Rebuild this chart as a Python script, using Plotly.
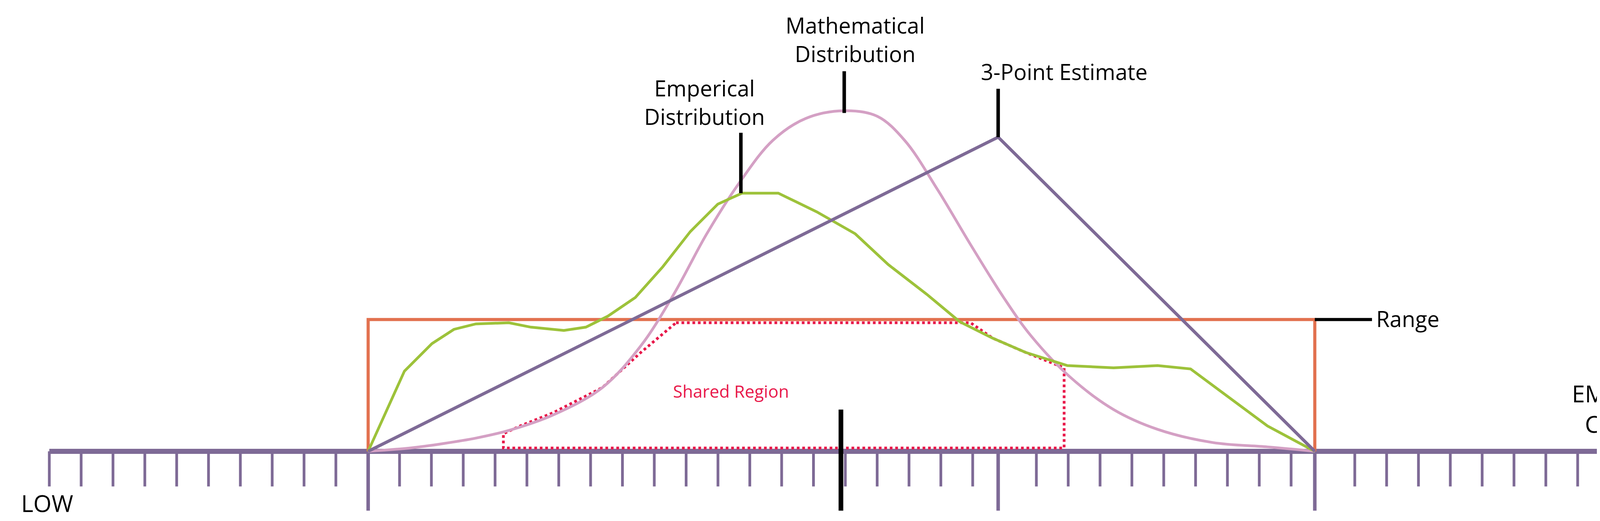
import plotly.graph_objects as go
import numpy as np

W, H = 4222, 1335
XR, YR = 1500.0, 474.3

axis_y = 408
axis_x0, axis_x1 = 42, 1490
n_minor = 50
major_ticks = [332, 905, 1193]

range_x = [332, 1193]
range_top = 288

tri_x = [332, 905, 1193]
tri_y = [408, 122, 408]

math_x = [332, 370, 400, 430, 460, 500, 545, 580, 610, 640, 670, 700, 730, 765, 795, 820, 850, 880, 910, 935, 970, 1010, 1050, 1100, 1150, 1193]
math_y = [408, 405, 401, 396, 389, 375, 350, 312, 265, 210, 163, 125, 105, 98, 103, 125, 170, 220, 268, 303, 340, 370, 388, 400, 404, 408]

emp_x = [332, 365, 390, 410, 430, 460, 480, 510, 530, 550, 575, 600, 625, 650, 672, 705, 740, 775, 805, 840, 870, 900, 930, 968, 1010, 1050, 1080, 1110, 1150, 1193]
emp_y = [408, 335, 310, 297, 292, 291, 295, 298, 295, 285, 268, 240, 208, 183, 173, 173, 190, 210, 238, 265, 290, 305, 318, 330, 332, 330, 333, 355, 385, 408]

shared_x = [612, 880, 900, 930, 965, 965, 455, 455, 470, 500, 545, 580, 612]
shared_y = [291, 291, 305, 318, 332, 405, 405, 392, 385, 373, 350, 318, 291]

PURPLE = "#7E6A96"
PINK = "#D4A0C4"
GREEN = "#9DC23A"
ORANGE = "#E2714F"
RED = "#E8184A"
FONT = "Open Sans"

fig = go.Figure()

minor = np.linspace(axis_x0, axis_x1, n_minor + 1)
tx, ty = [], []
for x in minor:
    if any(abs(x - m) < 10 for m in major_ticks):
        continue
    tx += [x, x, None]; ty += [axis_y, 440, None]
fig.add_trace(go.Scatter(x=tx, y=ty, mode="lines", line=dict(color=PURPLE, width=7)))
mx, my = [], []
for m in major_ticks:
    mx += [m, m, None]; my += [axis_y, 462, None]
fig.add_trace(go.Scatter(x=mx, y=my, mode="lines", line=dict(color=PURPLE, width=9)))
fig.add_trace(go.Scatter(x=[axis_x0, axis_x1], y=[axis_y, axis_y], mode="lines", line=dict(color=PURPLE, width=13)))

fig.add_trace(go.Scatter(x=[range_x[0], range_x[0], range_x[1], range_x[1]], y=[axis_y, range_top, range_top, axis_y],
                         mode="lines", line=dict(color=ORANGE, width=8)))
fig.add_trace(go.Scatter(x=[range_x[1], 1245], y=[range_top, range_top], mode="lines", line=dict(color="black", width=8)))

fig.add_trace(go.Scatter(x=shared_x, y=shared_y, mode="lines", line=dict(color=RED, width=7, dash="dot")))

fig.add_trace(go.Scatter(x=math_x, y=math_y, mode="lines", line=dict(color=PINK, width=7, shape="spline")))
fig.add_trace(go.Scatter(x=emp_x, y=emp_y, mode="lines", line=dict(color=GREEN, width=7)))
fig.add_trace(go.Scatter(x=tri_x, y=tri_y, mode="lines", line=dict(color=PURPLE, width=8)))

for (x, y0, y1, w) in [(905, 78, 122, 9), (765, 62, 100, 9), (671, 118, 173, 9), (762, 370, 462, 12)]:
    fig.add_trace(go.Scatter(x=[x, x], y=[y0, y1], mode="lines", line=dict(color="black", width=w)))

def txt(x, y, s, size=56, color="black", anchor="center"):
    fig.add_annotation(x=x, y=y, text=s, showarrow=False, xanchor=anchor, yanchor="middle",
                       font=dict(family=FONT, size=size, color=color), align="center")

txt(775, 33, "Mathematical<br>Distribution")
txt(965, 62, "3-Point Estimate")
txt(638, 90, "Emperical<br>Distribution")
txt(1248, 287, "Range", anchor="left")
txt(662, 353, "Shared Region", size=44, color=RED)
txt(780, 475, "Single Point Estimate")
txt(40, 455, "LOW", size=60)
txt(1487, 462, "HIGH", size=60)
txt(1482, 369, "EMBODIED<br>CARBON", size=60)

fig.update_layout(width=W, height=H, margin=dict(l=0, r=0, t=0, b=0), showlegend=False,
                  plot_bgcolor="white", paper_bgcolor="white",
                  xaxis=dict(range=[0, XR], visible=False),
                  yaxis=dict(range=[YR, 0], visible=False))
fig.write_html("out.html")
